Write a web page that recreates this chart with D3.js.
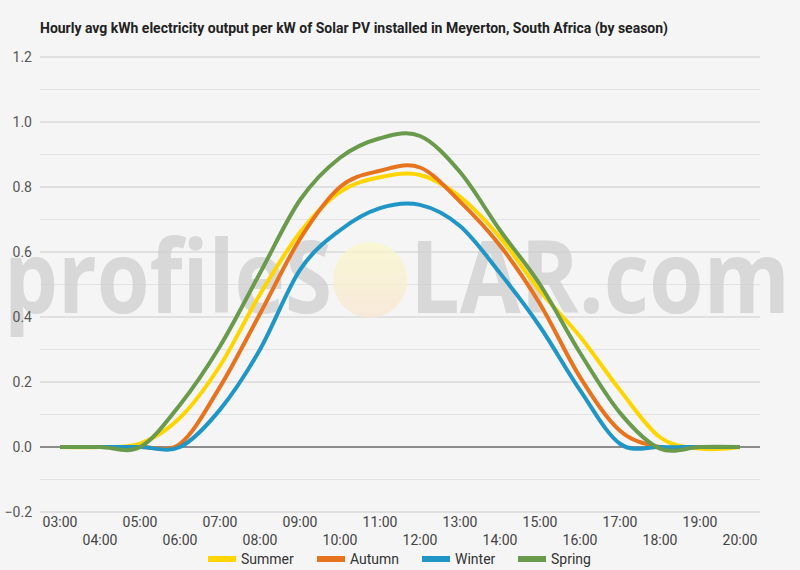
<!DOCTYPE html>
<html>
<head>
<meta charset="utf-8">
<script src="https://cdn.jsdelivr.net/npm/d3@7"></script>
<style>
  body { margin: 0; background: #f5f5f5; }
  svg { display: block; font-family: Roboto, sans-serif; }
</style>
</head>
<body>
<div id="chart"></div>
<script>
// hourly values
var hours = ["03:00","04:00","05:00","06:00","07:00","08:00","09:00","10:00","11:00",
             "12:00","13:00","14:00","15:00","16:00","17:00","18:00","19:00","20:00"];
var summer = [0, 0, 0.01, 0.09, 0.25, 0.47, 0.66, 0.785, 0.83, 0.837, 0.77, 0.645, 0.48, 0.34, 0.175, 0.03, -0.005, 0];
var autumn = [0, 0, 0, 0.01, 0.185, 0.41, 0.64, 0.80, 0.85, 0.86, 0.755, 0.62, 0.44, 0.215, 0.05, 0, 0, 0];
var winter = [0, 0, 0, 0, 0.115, 0.30, 0.545, 0.667, 0.735, 0.745, 0.68, 0.535, 0.37, 0.175, 0.01, 0, 0, 0];
var spring = [0, 0, 0, 0.13, 0.31, 0.535, 0.76, 0.89, 0.95, 0.957, 0.846, 0.667, 0.50, 0.29, 0.105, -0.005, 0, 0];
var seriesNames = ["Summer", "Autumn", "Winter", "Spring"];
var seriesColors = ["#ffd500", "#e8731f", "#1f96c6", "#6a9a4b"];
var yTicks = [-0.2, 0, 0.2, 0.4, 0.6, 0.8, 1.0, 1.2];

var width = 800, height = 570;
var svg = d3.select("#chart").append("svg")
  .attr("width", width)
  .attr("height", height);

svg.append("rect").attr("width", width).attr("height", height).attr("fill", "#f5f5f5");

var x = d3.scaleBand().domain(hours).range([40, 760]);
var y = d3.scaleLinear().domain([-0.2, 1.2]).range([512, 57]);

// title
svg.append("text")
  .attr("x", 40).attr("y", 33)
  .attr("textLength", 628).attr("lengthAdjust", "spacingAndGlyphs")
  .style("font-size", "14px").style("font-weight", "bold").attr("fill", "#222")
  .text("Hourly avg kWh electricity output per kW of Solar PV installed in Meyerton, South Africa (by season)");

// minor + major grid
var minor = d3.range(-0.1, 1.2, 0.2);
svg.append("g").selectAll("line").data(minor).enter().append("line")
  .attr("x1", 40).attr("x2", 760)
  .attr("y1", d => y(d)).attr("y2", d => y(d))
  .attr("stroke", "#e2e2e2").attr("stroke-width", 1);

svg.append("g").selectAll("line").data(yTicks.filter(d => d !== 0)).enter().append("line")
  .attr("x1", 40).attr("x2", 760)
  .attr("y1", d => y(d)).attr("y2", d => y(d))
  .attr("stroke", "#cccccc").attr("stroke-width", 1);

// watermark
var wm = svg.append("g").attr("opacity", 0.75);
wm.append("text").attr("x", 4).attr("y", 313)
  .attr("textLength", 328).attr("lengthAdjust", "spacingAndGlyphs")
  .style("font-family", "'Open Sans', sans-serif").style("font-size", "100px").style("font-weight", 700)
  .attr("fill", "#cfcfcf").text("profileS");
var sun = svg.append("defs").append("linearGradient").attr("id", "sun")
  .attr("x1", 0).attr("y1", 0).attr("x2", 0).attr("y2", 1);
sun.append("stop").attr("offset", "0%").attr("stop-color", "#fbf8c8");
sun.append("stop").attr("offset", "100%").attr("stop-color", "#f8e6d2");
wm.append("ellipse").attr("cx", 370).attr("cy", 280).attr("rx", 37).attr("ry", 38)
  .attr("fill", "url(#sun)");
wm.append("text").attr("x", 410).attr("y", 313)
  .attr("textLength", 380).attr("lengthAdjust", "spacingAndGlyphs")
  .style("font-family", "'Open Sans', sans-serif").style("font-size", "100px").style("font-weight", 700)
  .attr("fill", "#cfcfcf").text("LAR.com");

// zero line
svg.append("line").attr("x1", 40).attr("x2", 760)
  .attr("y1", y(0)).attr("y2", y(0))
  .attr("stroke", "#222").attr("stroke-width", 1);

// y labels
svg.append("g").selectAll("text").data(yTicks).enter().append("text")
  .attr("x", 32).attr("y", d => y(d) + 5)
  .attr("text-anchor", "end")
  .style("font-size", "14px").attr("fill", "#555")
  .text(d => d3.format(".1f")(d));

// x labels, alternating rows
svg.append("g").selectAll("text").data(hours).enter().append("text")
  .attr("x", d => x(d) + x.bandwidth() / 2)
  .attr("y", (d, i) => i % 2 === 0 ? 527 : 545)
  .attr("text-anchor", "middle")
  .style("font-size", "14px").attr("fill", "#444")
  .text(d => d);

// lines
var data = [summer, autumn, winter, spring];
var line = d3.line()
  .x((d, i) => x(hours[i]) + x.bandwidth() / 2)
  .y(d => y(d))
  .curve(d3.curveCardinal);

svg.append("g").selectAll("path").data(data).enter().append("path")
  .attr("d", line)
  .attr("fill", "none")
  .attr("stroke", (d, i) => seriesColors[i])
  .attr("stroke-width", 4)
  .attr("stroke-linejoin", "round");

// legend
var legendX = [208, 317, 422, 518];
var legend = svg.append("g").selectAll("g").data(seriesNames).enter().append("g")
  .attr("transform", (d, i) => "translate(" + legendX[i] + ",559)");
legend.append("rect").attr("x", 0).attr("y", -3).attr("width", 28).attr("height", 6)
  .attr("fill", (d, i) => seriesColors[i]);
legend.append("text").attr("x", 33).attr("y", 5)
  .style("font-size", "14px").attr("fill", "#333")
  .text(d => d);
</script>
</body>
</html>
